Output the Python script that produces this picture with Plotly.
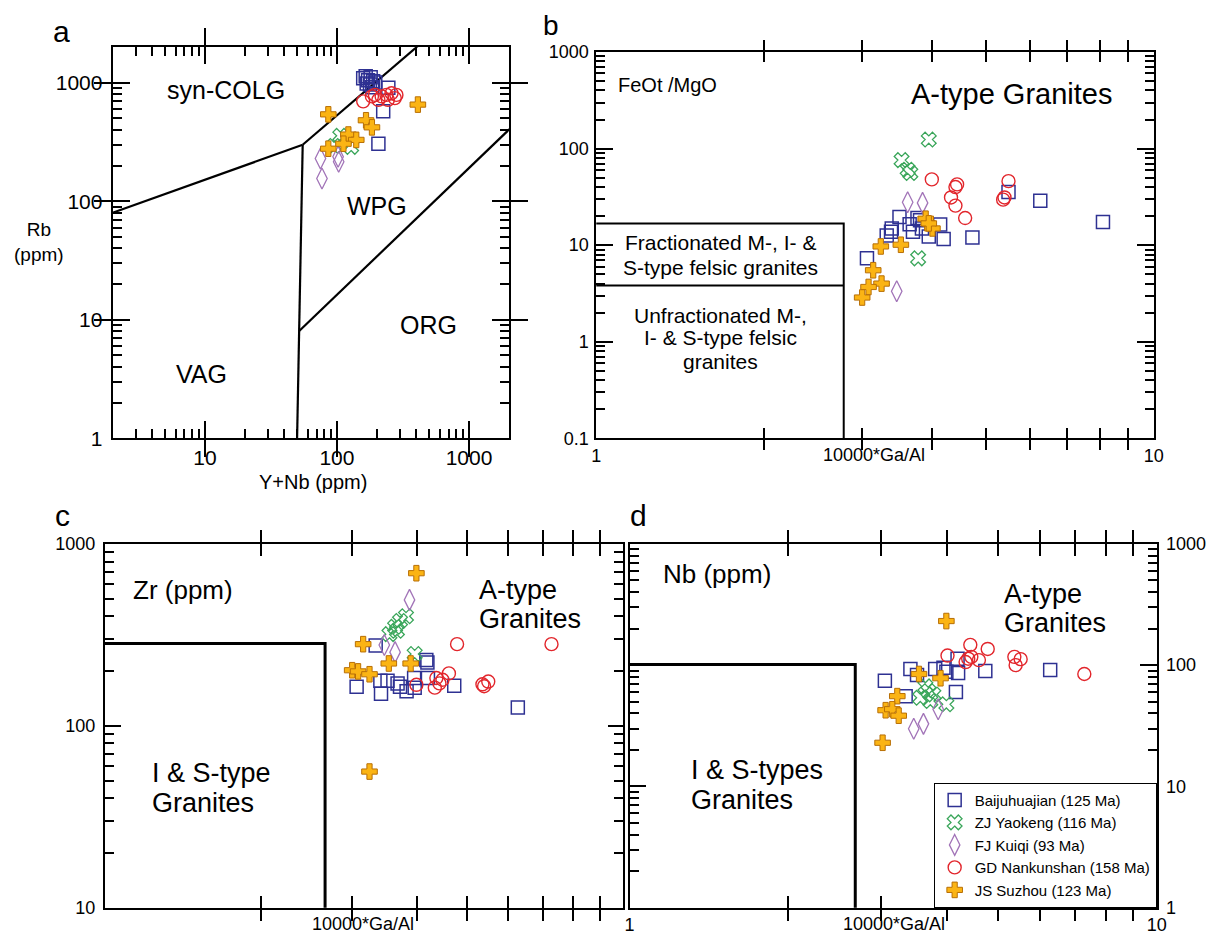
import plotly.graph_objects as go

W, H = 1220, 947
FONT = "Liberation Sans, Arial, Helvetica, sans-serif"


def fx(p):
    return p / W


def fy(p):
    return 1 - p / H


fig = go.Figure()

SERIES = ["Baijuhuajian (125 Ma)", "ZJ Yaokeng (116 Ma)", "FJ Kuiqi (93 Ma)",
          "GD Nankunshan (158 Ma)", "JS Suzhou (123 Ma)"]

# ---------------- panel a: Rb vs Y+Nb ----------------
baij_a_x = [158, 165, 172, 180, 188, 168, 178, 195, 185, 245, 224, 206]
baij_a_y = [1094, 1138, 1050, 1112, 1032, 987, 970, 1005, 916, 907, 577, 306]
yao_a_x = [106, 128, 95]
yao_a_y = [357, 288, 293]
kui_a_x = [75, 102, 103, 77]
kui_a_y = [230, 238, 216, 156]
nan_a_x = [158, 194, 218, 237, 259, 274, 243, 282, 206, 184]
nan_a_y = [698, 791, 768, 791, 817, 743, 719, 791, 719, 768]
suz_a_x = [86, 410, 166, 184, 122, 140, 112, 86]
suz_a_y = [542, 655, 483, 421, 366, 330, 306, 278]

# field boundaries (Y+Nb, Rb)
a_colg_vag_x = [2, 55]
a_colg_vag_y = [80, 300]
a_colg_wpg_x = [55, 440]
a_colg_wpg_y = [300, 2188]
a_vag_wpg_x = [55, 51.5, 49.8]
a_vag_wpg_y = [300, 8, 0.9]
a_org_wpg_x = [51.5, 2100]
a_org_wpg_y = [8, 422]

# ---------------- panel b: FeOt/MgO vs 10000*Ga/Al ----------------
baij_b_x = [3.50, 3.39, 3.38, 3.32, 3.65, 3.70, 3.81, 3.84, 3.95, 4.14, 4.20, 4.73, 3.06, 5.49, 6.26, 8.11, 3.77]
baij_b_y = [19.6, 14.9, 13.8, 12.6, 16.5, 13.8, 18.1, 14.9, 12.3, 16.4, 11.6, 12.0, 7.3, 35.6, 28.9, 17.4, 19.1]
yao_b_x = [3.95, 3.53, 3.62, 3.66, 3.78]
yao_b_y = [124, 76, 60.5, 55.9, 7.3]
kui_b_x = [3.62, 3.85, 3.46]
kui_b_y = [27.8, 27.4, 3.33]
nan_b_x = [4.00, 4.44, 4.41, 4.33, 4.41, 4.59, 5.49, 5.40, 5.37]
nan_b_y = [48, 42.6, 40, 31.2, 25.7, 19.1, 46, 31.2, 29.6]
suz_b_x = [3.90, 4.01, 3.95, 3.24, 3.52, 3.14, 3.25, 3.08, 3.00]
suz_b_y = [18.8, 14.9, 16.8, 9.7, 10.1, 5.5, 4.0, 3.69, 2.87]

b_box_x = [1, 2.78, 2.78]
b_box_y = [16.8, 16.8, 0.09]
b_div_x = [1, 2.78]
b_div_y = [3.83, 3.83]

# ---------------- panel c: Zr vs 10000*Ga/Al ----------------
baij_c_x = [3.33, 4.17, 4.19, 3.06, 3.41, 3.40, 3.51, 3.67, 3.71, 3.82, 3.95, 3.96, 4.20, 4.72, 6.26]
baij_c_y = [276, 230, 223, 164, 150, 177, 177, 171, 164, 155, 183, 162, 183, 166, 126]
yao_c_x = [3.81, 3.71, 3.63, 3.54, 3.66, 3.96]
yao_c_y = [400, 377, 350, 319, 333, 248]
kui_c_x = [3.87, 3.46, 3.63]
kui_c_y = [492, 278, 254]
nan_c_x = [4.78, 7.27, 4.61, 3.99, 4.33, 4.42, 4.48, 4.36, 5.39, 5.49, 5.35]
nan_c_y = [281, 281, 194, 168, 162, 171, 179, 183, 165, 175, 169]
suz_c_x = [3.99, 3.15, 3.53, 3.89, 3.00, 3.08, 3.24, 3.24]
suz_c_y = [690, 281, 220, 220, 202, 199, 192, 56]

c_box_x = [1, 2.66, 2.66]
c_box_y = [283, 283, 9]

# ---------------- panel d: Nb vs 10000*Ga/Al ----------------
baij_d_x = [3.05, 3.41, 3.51, 3.80, 3.94, 3.99, 4.20, 4.19, 4.73, 6.28, 3.34, 4.16]
baij_d_y = [74.3, 93, 83, 93, 95, 88, 86, 113, 89.6, 91, 55.5, 60]
yao_d_x = [3.64, 3.69, 3.56, 3.77, 3.99, 3.72]
yao_d_y = [66.8, 61, 53.8, 57.3, 47.5, 50.6]
kui_d_x = [3.46, 3.61, 3.85]
kui_d_y = [29.9, 32.8, 43.3]
nan_d_x = [4.01, 4.43, 4.78, 4.39, 4.34, 4.45, 4.60, 5.37, 5.52, 5.40, 7.29]
nan_d_y = [120, 147, 136, 113, 106, 117, 110, 117, 112, 100, 84.5]
suz_d_x = [3.99, 3.54, 3.89, 3.22, 3.06, 3.15, 3.24, 3.02]
suz_d_y = [231, 84.5, 78, 55.5, 42.5, 43.3, 38.3, 22.9]

d_box_x = [1, 2.68, 2.68]
d_box_y = [101, 101, 0.9]

# ---------------- marker styles ----------------
STYLES = [
    dict(symbol="square-open", size=13, color="#2e3192", line=dict(width=1.5, color="#2e3192")),
    dict(symbol="x-open", size=13, color="#3aa65a", line=dict(width=1.3, color="#3aa65a")),
    dict(symbol="diamond-tall-open", size=15, color="#a274b8", line=dict(width=1.3, color="#a274b8")),
    dict(symbol="circle-open", size=13, color="#e2262c", line=dict(width=1.4, color="#e2262c")),
    dict(symbol="cross", size=13, color="#fbb414", line=dict(width=1.0, color="#b86f06")),
]

panels = [
    ("x", "y", [(baij_a_x, baij_a_y), (yao_a_x, yao_a_y), (kui_a_x, kui_a_y), (nan_a_x, nan_a_y), (suz_a_x, suz_a_y)],
     [(a_colg_vag_x, a_colg_vag_y), (a_colg_wpg_x, a_colg_wpg_y), (a_vag_wpg_x, a_vag_wpg_y), (a_org_wpg_x, a_org_wpg_y)], 2.2),
    ("x2", "y2", [(baij_b_x, baij_b_y), (yao_b_x, yao_b_y), (kui_b_x, kui_b_y), (nan_b_x, nan_b_y), (suz_b_x, suz_b_y)],
     [(b_box_x, b_box_y), (b_div_x, b_div_y)], 2.0),
    ("x3", "y3", [(baij_c_x, baij_c_y), (yao_c_x, yao_c_y), (kui_c_x, kui_c_y), (nan_c_x, nan_c_y), (suz_c_x, suz_c_y)],
     [(c_box_x, c_box_y)], 3.0),
    ("x4", "y4", [(baij_d_x, baij_d_y), (yao_d_x, yao_d_y), (kui_d_x, kui_d_y), (nan_d_x, nan_d_y), (suz_d_x, suz_d_y)],
     [(d_box_x, d_box_y)], 3.0),
]

for xa, ya, series, lines, lw in panels:
    for lx, ly in lines:
        fig.add_trace(go.Scatter(x=lx, y=ly, mode="lines", xaxis=xa, yaxis=ya,
                                 line=dict(color="black", width=lw),
                                 hoverinfo="skip", showlegend=False))
    for name, (sx, sy), st in zip(SERIES, series, STYLES):
        fig.add_trace(go.Scatter(x=sx, y=sy, mode="markers", xaxis=xa, yaxis=ya,
                                 name=name, marker=st, showlegend=(xa == "x4")))


def minor_vals(d0, d1):
    return [m * 10 ** d for d in range(d0, d1 + 1) for m in range(2, 10)]


def log_axis(domain, rng, tickvals, ticktext, ticklen, lw=1.6, fontsize=18, side=None,
             showlabels=True, anchor=None, standoff=0):
    ax = dict(type="log", domain=domain, range=rng, showline=True, linecolor="black",
              linewidth=lw, mirror="allticks", ticks="inside", ticklen=ticklen,
              tickwidth=1.6, tickcolor="black", tickmode="array", tickvals=tickvals,
              ticktext=ticktext, showgrid=False, zeroline=False,
              showticklabels=showlabels, ticklabelstandoff=standoff,
              tickfont=dict(family=FONT, size=fontsize, color="black"))
    if side:
        ax["side"] = side
    if anchor:
        ax["anchor"] = anchor
    return ax


def minor_axis(rng, vals, ticklen, overlay, anchor, side):
    # short unlabelled ticks laid over one side of a main axis
    return dict(type="log", range=rng, overlaying=overlay, anchor=anchor, side=side,
                showline=False, mirror=False, ticks="inside", ticklen=ticklen,
                tickwidth=1.6, tickcolor="black", tickmode="array", tickvals=vals,
                showticklabels=False, showgrid=False, zeroline=False)


gaal_vals = [1, 2, 3, 4, 5, 6, 7, 8, 9, 10]
gaal_text = ["1", "", "", "", "", "", "", "", "", "10"]

A_XR = [0.30103, 3.30103]
A_YR = [0, 3.30103]
B_YR = [-1, 3]
C_YR = [1, 3]
D_YR = [0, 3]

layout = dict(
    width=W, height=H, margin=dict(l=0, r=0, t=0, b=0),
    paper_bgcolor="white", plot_bgcolor="white",
    font=dict(family=FONT, color="black"),
    # panel a
    xaxis=log_axis([fx(109), fx(510)], A_XR, [10, 100, 1000], ["10", "100", "1000"],
                   17, lw=2, fontsize=21, anchor="y"),
    yaxis=log_axis([fy(438), fy(38)], A_YR, [1, 10, 100, 1000], ["1", "10", "100", "1000"],
                   17, lw=2, fontsize=21, anchor="x", standoff=4),
    xaxis5=minor_axis(A_XR, minor_vals(0, 3), 9, "x", "y", "bottom"),
    xaxis6=minor_axis(A_XR, minor_vals(0, 3), 9, "x", "y", "top"),
    yaxis5=minor_axis(A_YR, minor_vals(0, 3), 9, "y", "x", "left"),
    yaxis6=minor_axis(A_YR, minor_vals(0, 3), 9, "y", "x", "right"),
    # panel b
    xaxis2=log_axis([fx(598.5), fx(1163)], [0, 1], gaal_vals, gaal_text, 10,
                    fontsize=18, anchor="y2"),
    yaxis2=log_axis([fy(438), fy(43)], B_YR, [0.1, 1, 10, 100, 1000], ["0.1", "1", "10", "100", "1000"],
                    17, fontsize=18, anchor="x2", standoff=2),
    yaxis7=minor_axis(B_YR, minor_vals(-1, 2), 9, "y2", "x2", "left"),
    yaxis8=minor_axis(B_YR, minor_vals(-1, 2), 9, "y2", "x2", "right"),
    # panel c
    xaxis3=log_axis([fx(101), fx(626)], [0, 1], gaal_vals, gaal_text, 12,
                    showlabels=False, anchor="y3"),
    yaxis3=log_axis([fy(918), fy(546)], C_YR, [10, 100, 1000], ["10", "100", "1000"],
                    16, fontsize=18, anchor="x3", standoff=4),
    yaxis9=minor_axis(C_YR, minor_vals(1, 2), 9, "y3", "x3", "left"),
    yaxis10=minor_axis(C_YR, minor_vals(1, 2), 9, "y3", "x3", "right"),
    # panel d
    xaxis4=log_axis([fx(632.4), fx(1166)], [0, 1], gaal_vals, gaal_text, 12,
                    fontsize=18, anchor="y4"),
    yaxis4=log_axis([fy(918), fy(546)], D_YR, [1, 10, 100, 1000], ["1", "10", "100", "1000"],
                    17, fontsize=18, side="right", anchor="x4", standoff=4),
    yaxis11=minor_axis(D_YR, minor_vals(0, 2), 9, "y4", "x4", "right"),
    yaxis12=minor_axis(D_YR, minor_vals(0, 2), 9, "y4", "x4", "left"),
    legend=dict(x=fx(1166), y=fy(918), xanchor="right", yanchor="bottom",
                bgcolor="white", bordercolor="black", borderwidth=1,
                font=dict(family=FONT, size=15, color="black"),
                tracegroupgap=0, itemsizing="trace"),
    showlegend=True,
    hovermode=False,
)
fig.update_layout(**layout)

# empty traces that attach the minor-tick axes to their panels
for xa, ya in [("x5", "y"), ("x6", "y"), ("x", "y5"), ("x", "y6"),
               ("x2", "y7"), ("x2", "y8"), ("x3", "y9"), ("x3", "y10"),
               ("x4", "y11"), ("x4", "y12")]:
    fig.add_trace(go.Scatter(x=[], y=[], xaxis=xa, yaxis=ya, mode="markers",
                             showlegend=False, hoverinfo="skip"))


def text(s, x, y, size, xanchor="center", yanchor="middle"):
    fig.add_annotation(text=s, x=fx(x), y=fy(y), xref="paper", yref="paper",
                       xanchor=xanchor, yanchor=yanchor, showarrow=False,
                       font=dict(family=FONT, size=size, color="black"))


# panel letters
text("a", 57, 22, 30)
text("b", 553, 16, 28)
text("c", 58, 517, 30)
text("d", 641, 517, 30)

# panel a labels
text("syn-COLG", 224, 82, 25)
text("WPG", 377, 200, 25)
text("ORG", 429, 322, 25)
text("VAG", 199, 372, 25)
text("Rb<br>(ppm)", 34, 237, 19)
text("Y+Nb (ppm)", 312, 483, 20)

# panel b labels
text("FeOt /MgO", 671, 77, 20)
text("A-type Granites", 1019, 86, 29)
text("Fractionated M-, I- &", 724, 238, 21)
text("S-type felsic granites", 724, 263, 21)
text("Unfractionated M-,", 724, 312, 21)
text("I- & S-type felsic", 724, 335, 21)
text("granites", 724, 359, 21)
text("10000*Ga/Al", 880, 455, 18)

# panel c labels
text("Zr (ppm)", 180, 593, 26)
text("A-type", 478, 593, 27, xanchor="left")
text("Granites", 478, 623, 27, xanchor="left")
text("I & S-type", 147, 780, 27, xanchor="left")
text("Granites", 147, 811, 27, xanchor="left")
text("10000*Ga/Al", 362, 935, 18)

# panel d labels
text("Nb (ppm)", 721, 577, 26)
text("A-type", 1009, 597, 27, xanchor="left")
text("Granites", 1009, 627, 27, xanchor="left")
text("I & S-types", 693, 777, 27, xanchor="left")
text("Granites", 693, 808, 27, xanchor="left")
text("10000*Ga/Al", 900, 935, 18)

fig.write_html("out.html")
